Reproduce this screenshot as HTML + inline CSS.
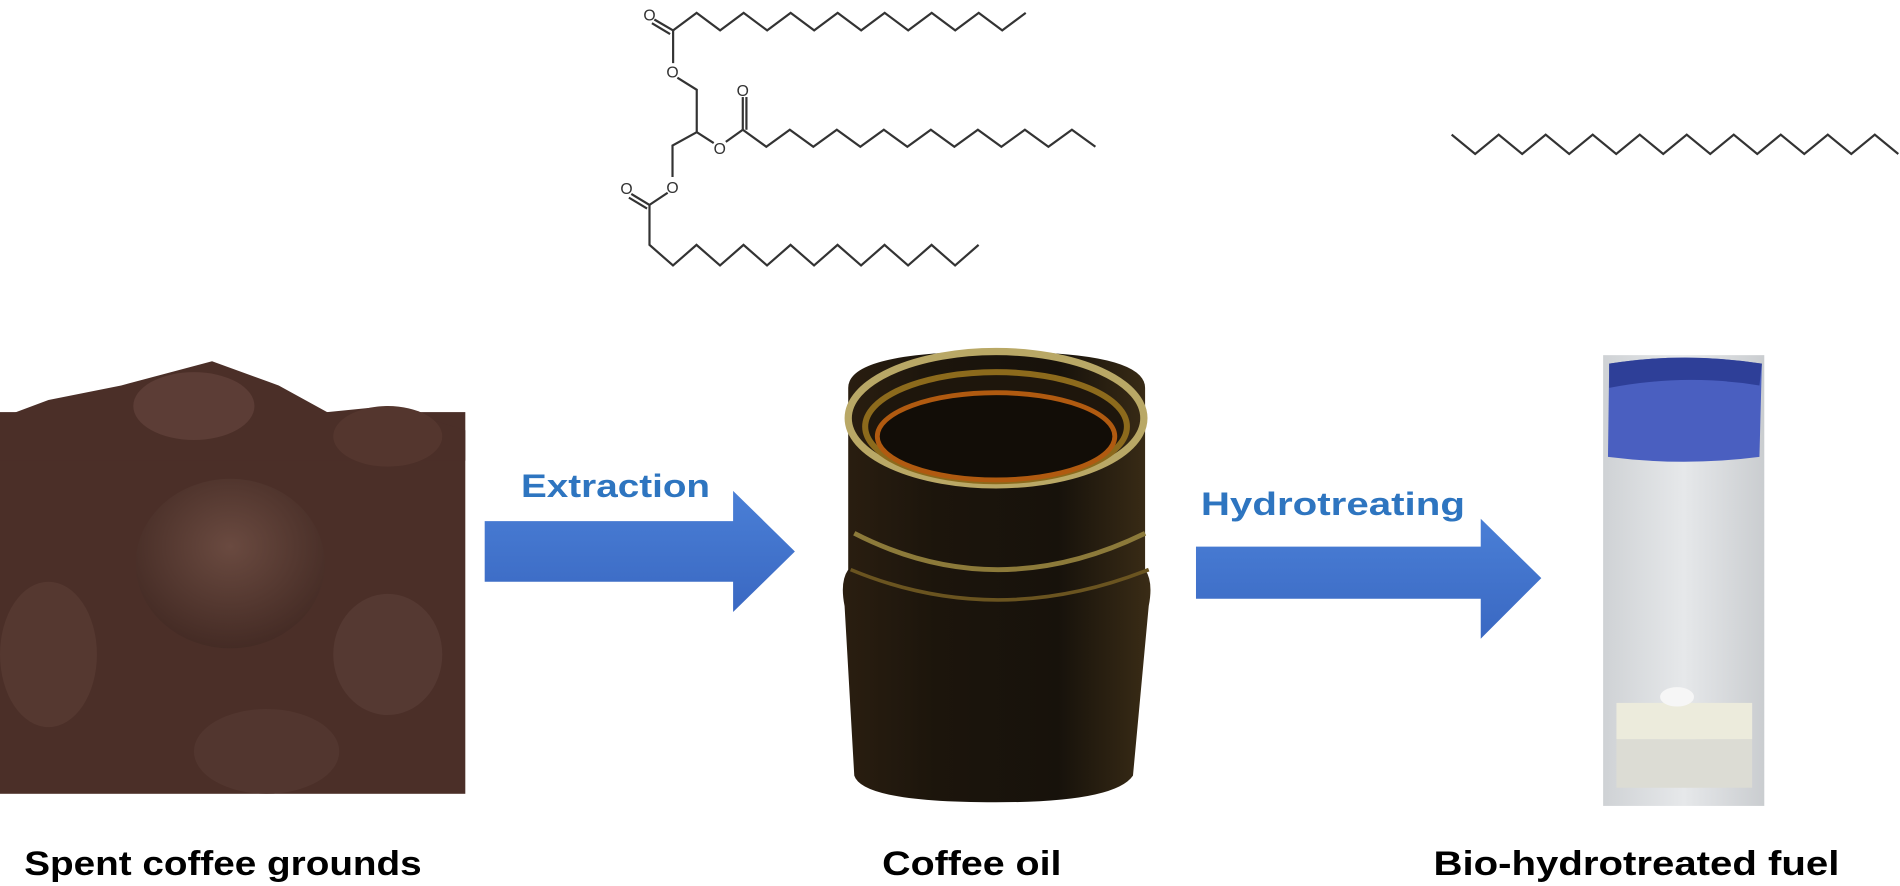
<!DOCTYPE html>
<html><head><meta charset="utf-8"><style>
html,body{margin:0;padding:0;background:#fff;}
svg{display:block;}
text{font-family:"Liberation Sans",sans-serif;font-weight:bold;}
</style></head><body>
<svg width="1900" height="886" viewBox="0 0 1568 731" xmlns="http://www.w3.org/2000/svg">
<defs>
<linearGradient id="ar" x1="0" y1="0" x2="0" y2="1">
<stop offset="0" stop-color="#4a7fd6"/><stop offset="1" stop-color="#3a68c2"/>
</linearGradient>
<radialGradient id="cf" cx="0.5" cy="0.4" r="0.7">
<stop offset="0" stop-color="#6a4a40"/><stop offset="1" stop-color="#3e2620"/>
</radialGradient>
<linearGradient id="jar" x1="0" y1="0" x2="1" y2="0">
<stop offset="0" stop-color="#2a1e10"/><stop offset="0.3" stop-color="#1c150c"/><stop offset="0.7" stop-color="#17120b"/><stop offset="1" stop-color="#3a2c16"/>
</linearGradient>
<linearGradient id="vial" x1="0" y1="0" x2="1" y2="0">
<stop offset="0" stop-color="#cfd2d5"/><stop offset="0.5" stop-color="#e6e8ea"/><stop offset="1" stop-color="#cacdd0"/>
</linearGradient>
</defs>

<!-- coffee grounds -->
<rect x="0" y="340" width="384" height="315" fill="#4b2f28"/>
<path d="M0 345 L40 330 L100 318 L175 298 L230 318 L270 340 L320 335 L384 355 L384 380 L0 380Z" fill="#4b2f28"/>
<ellipse cx="160" cy="335" rx="50" ry="28" fill="#5c3d36"/>
<ellipse cx="190" cy="465" rx="78" ry="70" fill="url(#cf)"/>
<ellipse cx="40" cy="540" rx="40" ry="60" fill="#553830"/>
<ellipse cx="320" cy="540" rx="45" ry="50" fill="#553932"/>
<ellipse cx="320" cy="360" rx="45" ry="25" fill="#54362e"/>
<ellipse cx="220" cy="620" rx="60" ry="35" fill="#52362f"/>

<!-- arrow 1 -->
<polygon points="400,430 605,430 605,405 656,455 605,505 605,480 400,480" fill="url(#ar)"/>
<text x="430" y="410" font-size="27" fill="#2e75c0" textLength="156" lengthAdjust="spacingAndGlyphs">Extraction</text>

<!-- jar -->
<path d="M700 320 Q700 290 822 290 Q945 290 945 320 L945 470 Q952 480 948 500 L935 640 Q920 662 822 662 Q712 662 705 640 L697 500 Q693 480 700 470Z" fill="url(#jar)"/>
<ellipse cx="822" cy="345" rx="122" ry="55" fill="none" stroke="#b9a866" stroke-width="6"/>
<ellipse cx="822" cy="352" rx="108" ry="45" fill="#1e160c" stroke="#8c6a1c" stroke-width="5"/>
<ellipse cx="822" cy="360" rx="98" ry="36" fill="#120d07" stroke="#b05a10" stroke-width="4"/>
<path d="M705 440 Q822 500 945 440" fill="none" stroke="#8c7a3a" stroke-width="4"/>
<path d="M702 470 Q822 520 948 470" fill="none" stroke="#6a5420" stroke-width="3"/>

<!-- arrow 2 -->
<polygon points="987,451 1222,451 1222,428 1272,477 1222,527 1222,494 987,494" fill="url(#ar)"/>
<text x="991" y="425" font-size="27" fill="#2e75c0" textLength="218" lengthAdjust="spacingAndGlyphs">Hydrotreating</text>

<!-- vial -->
<rect x="1323" y="293" width="133" height="372" fill="url(#vial)"/>
<path d="M1328 300 Q1390 290 1454 300 L1452 377 Q1390 385 1327 377Z" fill="#4a5fc0"/>
<path d="M1328 300 Q1390 290 1454 300 L1452 318 Q1390 308 1328 320Z" fill="#2e3f98"/>
<rect x="1334" y="580" width="112" height="30" fill="#ecebdc"/>
<rect x="1334" y="610" width="112" height="40" fill="#dcdcd4"/>
<ellipse cx="1384" cy="575" rx="14" ry="8" fill="#f6f6f6"/>

<!-- labels -->
<text x="20" y="722" font-size="28" fill="#000" textLength="328" lengthAdjust="spacingAndGlyphs">Spent coffee grounds</text>
<text x="728" y="722" font-size="28" fill="#000" textLength="148" lengthAdjust="spacingAndGlyphs">Coffee oil</text>
<text x="1183" y="722" font-size="28" fill="#000" textLength="335" lengthAdjust="spacingAndGlyphs">Bio-hydrotreated fuel</text>

<!-- structures -->
<g id="mol" fill="none" stroke="#333" stroke-width="1.8"></g>
<g font-size="13" fill="#333" text-anchor="middle">
<text x="536" y="17" style="font-weight:normal">O</text>
<text x="555" y="64" style="font-weight:normal">O</text>
<text x="613" y="79" style="font-weight:normal">O</text>
<text x="594" y="127" style="font-weight:normal">O</text>
<text x="555" y="159" style="font-weight:normal">O</text>
<text x="517" y="160" style="font-weight:normal">O</text>
</g>
</svg>
<script>
(function(){
var g=document.getElementById('mol');
function pl(pts){var p=document.createElementNS('http://www.w3.org/2000/svg','polyline');p.setAttribute('points',pts.map(function(a){return a[0].toFixed(1)+','+a[1].toFixed(1)}).join(' '));g.appendChild(p);}
function chain(x0,n,ya,yb){var a=[];for(var k=0;k<=n;k++)a.push([x0+19.4*k,k%2==0?ya:yb]);return a;}
pl(chain(555.5,15,25,10.5));
pl(chain(613,15,107,121));
var c3=[[536,169],[536,202]].concat(chain(536,14,202,219).slice(1));pl(c3);
pl(chain(1198,19,111,127));
pl([[555.5,25],[555.5,52]]);
pl([[559,64],[575,74],[575,109],[589,118]]);
pl([[599,117],[613,107]]);
pl([[575,109],[555,120],[555,146]]);
pl([[551,159],[536,169]]);
pl([[555.5,25],[540,16]]);pl([[553,28],[538,19]]);
pl([[613,107],[613,80]]);pl([[616,107],[616,80]]);
pl([[536,169],[521,160]]);pl([[534,172],[519,163]]);
})();
</script>
</body></html>
